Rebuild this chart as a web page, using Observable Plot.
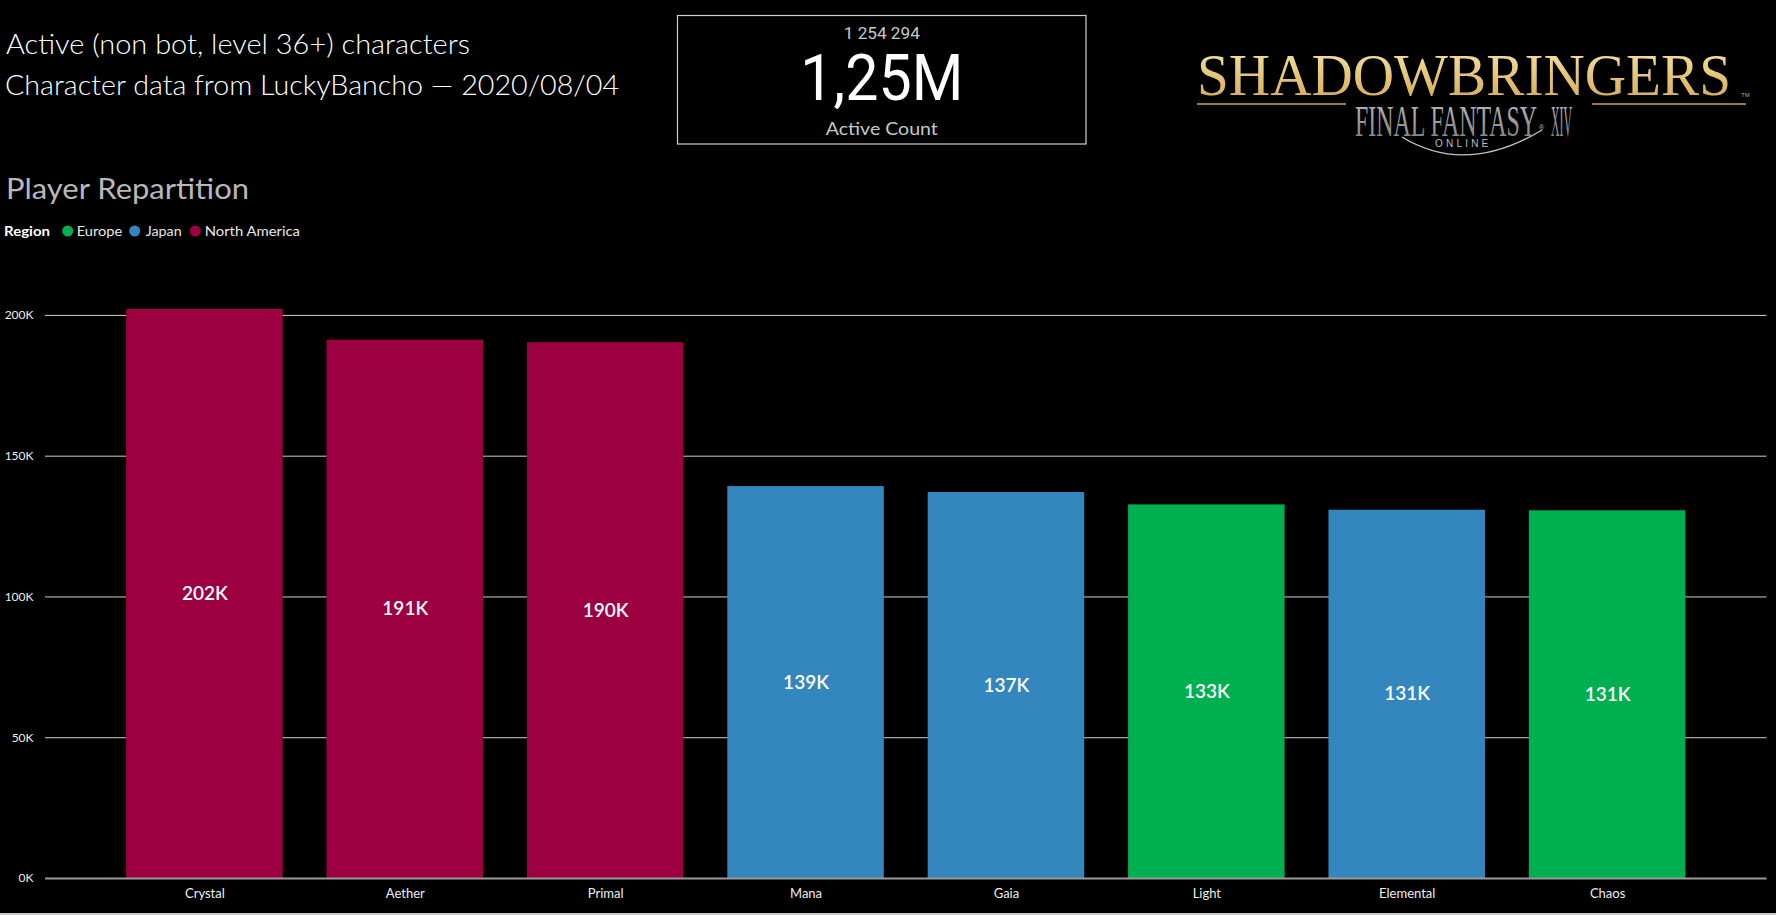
<!DOCTYPE html>
<html>
<head>
<meta charset="utf-8">
<script src="https://cdn.jsdelivr.net/npm/d3@7"></script>
<script src="https://cdn.jsdelivr.net/npm/@observablehq/plot@0.6"></script>
<style>
  html, body { margin: 0; padding: 0; background: #000; }
  body { width: 1776px; height: 915px; position: relative; overflow: hidden; font-family: Lato, "Open Sans", sans-serif; }
  #header { position: absolute; left: 0; top: 0; }
  #chart { position: absolute; left: 0; top: 250px; }
  #bottomline { position: absolute; left: 0; top: 913px; width: 1776px; height: 2px; background: #c8c8c8; }
</style>
</head>
<body>
<svg id="header" width="1776" height="250" xmlns="http://www.w3.org/2000/svg">
  <defs>
    <linearGradient id="gold" x1="0" y1="0" x2="0" y2="1">
      <stop offset="0" stop-color="#f8e8a8"/>
      <stop offset="0.45" stop-color="#dcb763"/>
      <stop offset="1" stop-color="#8a6428"/>
    </linearGradient>
    <linearGradient id="silver" x1="0" y1="0" x2="0" y2="1">
      <stop offset="0" stop-color="#f4f4f4"/>
      <stop offset="0.5" stop-color="#c0c0c0"/>
      <stop offset="1" stop-color="#747474"/>
    </linearGradient>
  </defs>
  <!-- titles -->
  <text x="6" y="54" font-family="Lato" font-weight="300" font-size="27" fill="#ffffff" textLength="464" lengthAdjust="spacingAndGlyphs">Active (non bot, level 36+) characters</text>
  <text x="5" y="95" font-family="Lato" font-weight="300" font-size="27" fill="#ffffff" textLength="614" lengthAdjust="spacingAndGlyphs">Character data from LuckyBancho — 2020/08/04</text>
  <text x="6" y="199" font-family="Lato" font-weight="400" font-size="28" fill="#b8b8b8" textLength="243" lengthAdjust="spacingAndGlyphs">Player Repartition</text>
  <!-- legend -->
  <g id="legend" font-family="Lato" font-size="14"></g>
  <!-- card -->
  <rect x="677.5" y="15.5" width="408.5" height="128.5" fill="none" stroke="#cfcfcf" stroke-width="1.2"/>
  <text id="cardSmall" x="881.8" y="39" text-anchor="middle" font-family="Roboto" font-size="16" fill="#c8c8c8" textLength="76" lengthAdjust="spacingAndGlyphs"></text>
  <text id="cardBig" x="881.8" y="100" text-anchor="middle" font-family="Roboto" font-size="64" fill="#ffffff" textLength="163" lengthAdjust="spacingAndGlyphs"></text>
  <text x="881.8" y="135" text-anchor="middle" font-family="Lato" font-size="18" fill="#c8c8c8" textLength="112" lengthAdjust="spacingAndGlyphs">Active Count</text>
  <!-- logo -->
  <line x1="1197" y1="104" x2="1346" y2="104" stroke="#c9a45a" stroke-width="1.5"/>
  <line x1="1592" y1="104" x2="1746" y2="104" stroke="#c9a45a" stroke-width="1.5"/>
  <path d="M1402,137 Q1466,176 1542,130" fill="none" stroke="#c4c4c4" stroke-width="1.4"/>
  <text font-family="Liberation Serif"><tspan x="1197" y="95" font-size="60" fill="url(#gold)" textLength="534" lengthAdjust="spacingAndGlyphs">SHADOWBRINGERS</tspan><tspan x="1741" y="97" font-family="Liberation Sans" font-size="6" fill="#c9a860">TM</tspan><tspan x="1355" y="136" font-size="45" fill="url(#silver)" textLength="182" lengthAdjust="spacingAndGlyphs">FINAL FANTASY</tspan><tspan x="1539" y="130" font-family="Liberation Sans" font-size="7" fill="#bbbbbb">®</tspan><tspan x="1551" y="136" font-size="45" fill="url(#silver)" textLength="21" lengthAdjust="spacingAndGlyphs">XIV</tspan><tspan x="1435" y="147" font-family="Liberation Sans" font-size="10" fill="#bdbdbd" letter-spacing="3.2">ONLINE</tspan></text>
</svg>
<div id="chart"></div>
<div id="bottomline"></div>
<script>
// ---- data ----
const servers = ["Crystal", "Aether", "Primal", "Mana", "Gaia", "Light", "Elemental", "Chaos"];
const players = [202100, 191200, 190300, 139200, 137100, 132700, 130800, 130600];
const serverRegions = ["North America", "North America", "North America", "Japan", "Japan", "Europe", "Japan", "Europe"];
const regionNames = ["Europe", "Japan", "North America"];
const regionColors = ["#00AF50", "#3387BE", "#9C0041"];
const yTicks = [0, 50000, 100000, 150000, 200000];
const totalActive = 1254294;

const data = servers.map((s, i) => ({server: s, players: players[i], region: serverRegions[i]}));

// ---- card ----
document.getElementById("cardSmall").textContent = d3.format(",")(totalActive).replace(/,/g, " ");
document.getElementById("cardBig").textContent = (totalActive / 1e6).toFixed(2).replace(".", ",") + "M";

// ---- legend ----
const ns = "http://www.w3.org/2000/svg";
const legend = document.getElementById("legend");
function addText(x, y, str, len, weight, fill) {
  const t = document.createElementNS(ns, "text");
  t.setAttribute("x", x); t.setAttribute("y", y);
  t.setAttribute("fill", fill); t.setAttribute("font-weight", weight);
  t.setAttribute("textLength", len); t.setAttribute("lengthAdjust", "spacingAndGlyphs");
  t.textContent = str; legend.appendChild(t);
}
addText(4, 236, "Region", 46, 700, "#ffffff");
const legendPos = [{cx: 67.7, tx: 76.7, len: 45.6}, {cx: 134.7, tx: 145.7, len: 36}, {cx: 195.3, tx: 204.7, len: 95.3}];
regionNames.forEach((r, i) => {
  const c = document.createElementNS(ns, "circle");
  c.setAttribute("cx", legendPos[i].cx); c.setAttribute("cy", 231); c.setAttribute("r", 5.5);
  c.setAttribute("fill", regionColors[i]); legend.appendChild(c);
  addText(legendPos[i].tx, 236, r, legendPos[i].len, 400, "#e8e8e8");
});

// ---- chart ----
const chart = Plot.plot({
  width: 1776,
  height: 665,
  marginLeft: 45,
  marginRight: 9.5,
  marginTop: 8.6,
  marginBottom: 37,
  style: {background: "transparent", color: "#eeeeee", fontFamily: "Lato, sans-serif", fontSize: "12px"},
  x: {domain: servers, paddingInner: 0.219, paddingOuter: 0.405, round: false, label: null},
  y: {domain: [0, 220000], label: null},
  color: {domain: regionNames, range: regionColors},
  marks: [
    Plot.gridY(yTicks.slice(1), {stroke: "#cfcfcf", strokeOpacity: 1, strokeWidth: 1}),
    Plot.barY(data, {x: "server", y: "players", fill: "region"}),
    Plot.ruleY([0], {stroke: "#9a9a9a", strokeWidth: 2}),
    Plot.axisY(yTicks, {tickSize: 0, tickPadding: 12, tickFormat: d => d / 1000 + "K", label: null, fontSize: 12}),
    Plot.axisX({tickSize: 0, tickPadding: 10, label: null, fontSize: 13}),
    Plot.text(data, {x: "server", y: d => d.players / 2, text: d => Math.round(d.players / 1000) + "K",
      fill: "white", fontSize: 19, fontWeight: 600})
  ]
});
document.getElementById("chart").appendChild(chart);
</script>
</body>
</html>
